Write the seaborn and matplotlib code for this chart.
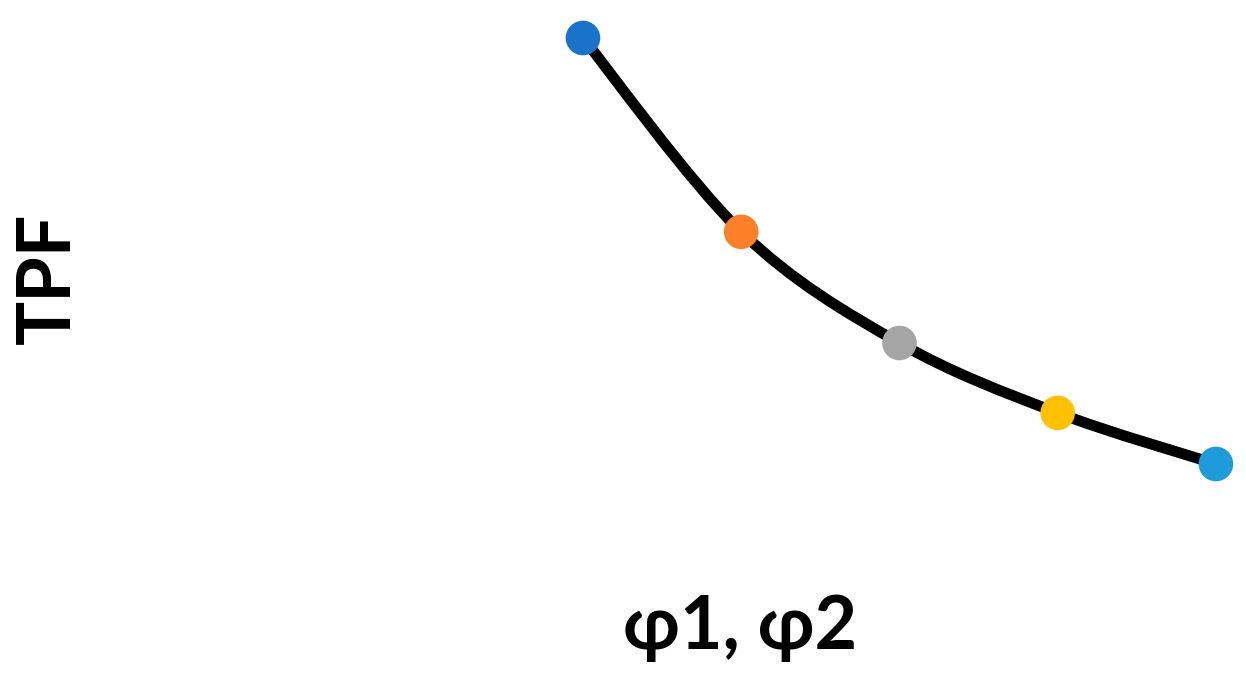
import numpy as np
import pandas as pd
import matplotlib
matplotlib.use("Agg")
import matplotlib.pyplot as plt
from matplotlib.path import Path
from matplotlib.patches import PathPatch
import seaborn as sns

# data
phi_index = [0, 1, 2, 3, 4]
tpf = [1.000, 0.545, 0.284, 0.120, 0.000]
point_colors = ["#1B73C9", "#FD7F28", "#A5A5A5", "#FFC000", "#1E9BDA"]
x_label = "φ1, φ2"
y_label = "TPF"

sns.set_theme(style="white")
plt.rcParams["font.family"] = ["Lato", "DejaVu Sans"]

fig = plt.figure(figsize=(12.46, 6.76), dpi=100)
ax = fig.add_axes([0, 0, 1, 1])
ax.set_xlim(-3.684, 4.190)
ax.set_ylim(-0.4977, 1.0892)
ax.axis("off")

# smoothed line (Excel-like Catmull-Rom Bezier) through the data points
pts = np.column_stack([phi_index, tpf]).astype(float)
n = len(pts)
verts = [tuple(pts[0])]
codes = [Path.MOVETO]
for i in range(n - 1):
    p_prev = pts[i - 1] if i > 0 else pts[i]
    p0 = pts[i]
    p1 = pts[i + 1]
    p_next = pts[i + 2] if i + 2 < n else pts[i + 1]
    c1 = p0 + (p1 - p_prev) / 6.0
    c2 = p1 - (p_next - p0) / 6.0
    verts += [tuple(c1), tuple(c2), tuple(p1)]
    codes += [Path.CURVE4] * 3
ax.add_patch(PathPatch(Path(verts, codes), facecolor="none", edgecolor="black",
                       lw=7.8, capstyle="butt", joinstyle="round", zorder=2))

df = pd.DataFrame({"phi": phi_index, "TPF": tpf, "c": [str(i) for i in phi_index]})
sns.scatterplot(data=df, x="phi", y="TPF", hue="c", palette=point_colors,
                s=620, linewidth=0, legend=False, ax=ax, zorder=3)

fig.text(740 / 1246, 1 - 627 / 676, x_label, ha="center", va="center",
         fontsize=53, fontweight="bold", color="black")
fig.text(48 / 1246, 1 - 278 / 676, y_label, ha="center", va="center",
         rotation=90, fontsize=53, fontweight="bold", color="black")

fig.savefig("out.png", dpi=100)
